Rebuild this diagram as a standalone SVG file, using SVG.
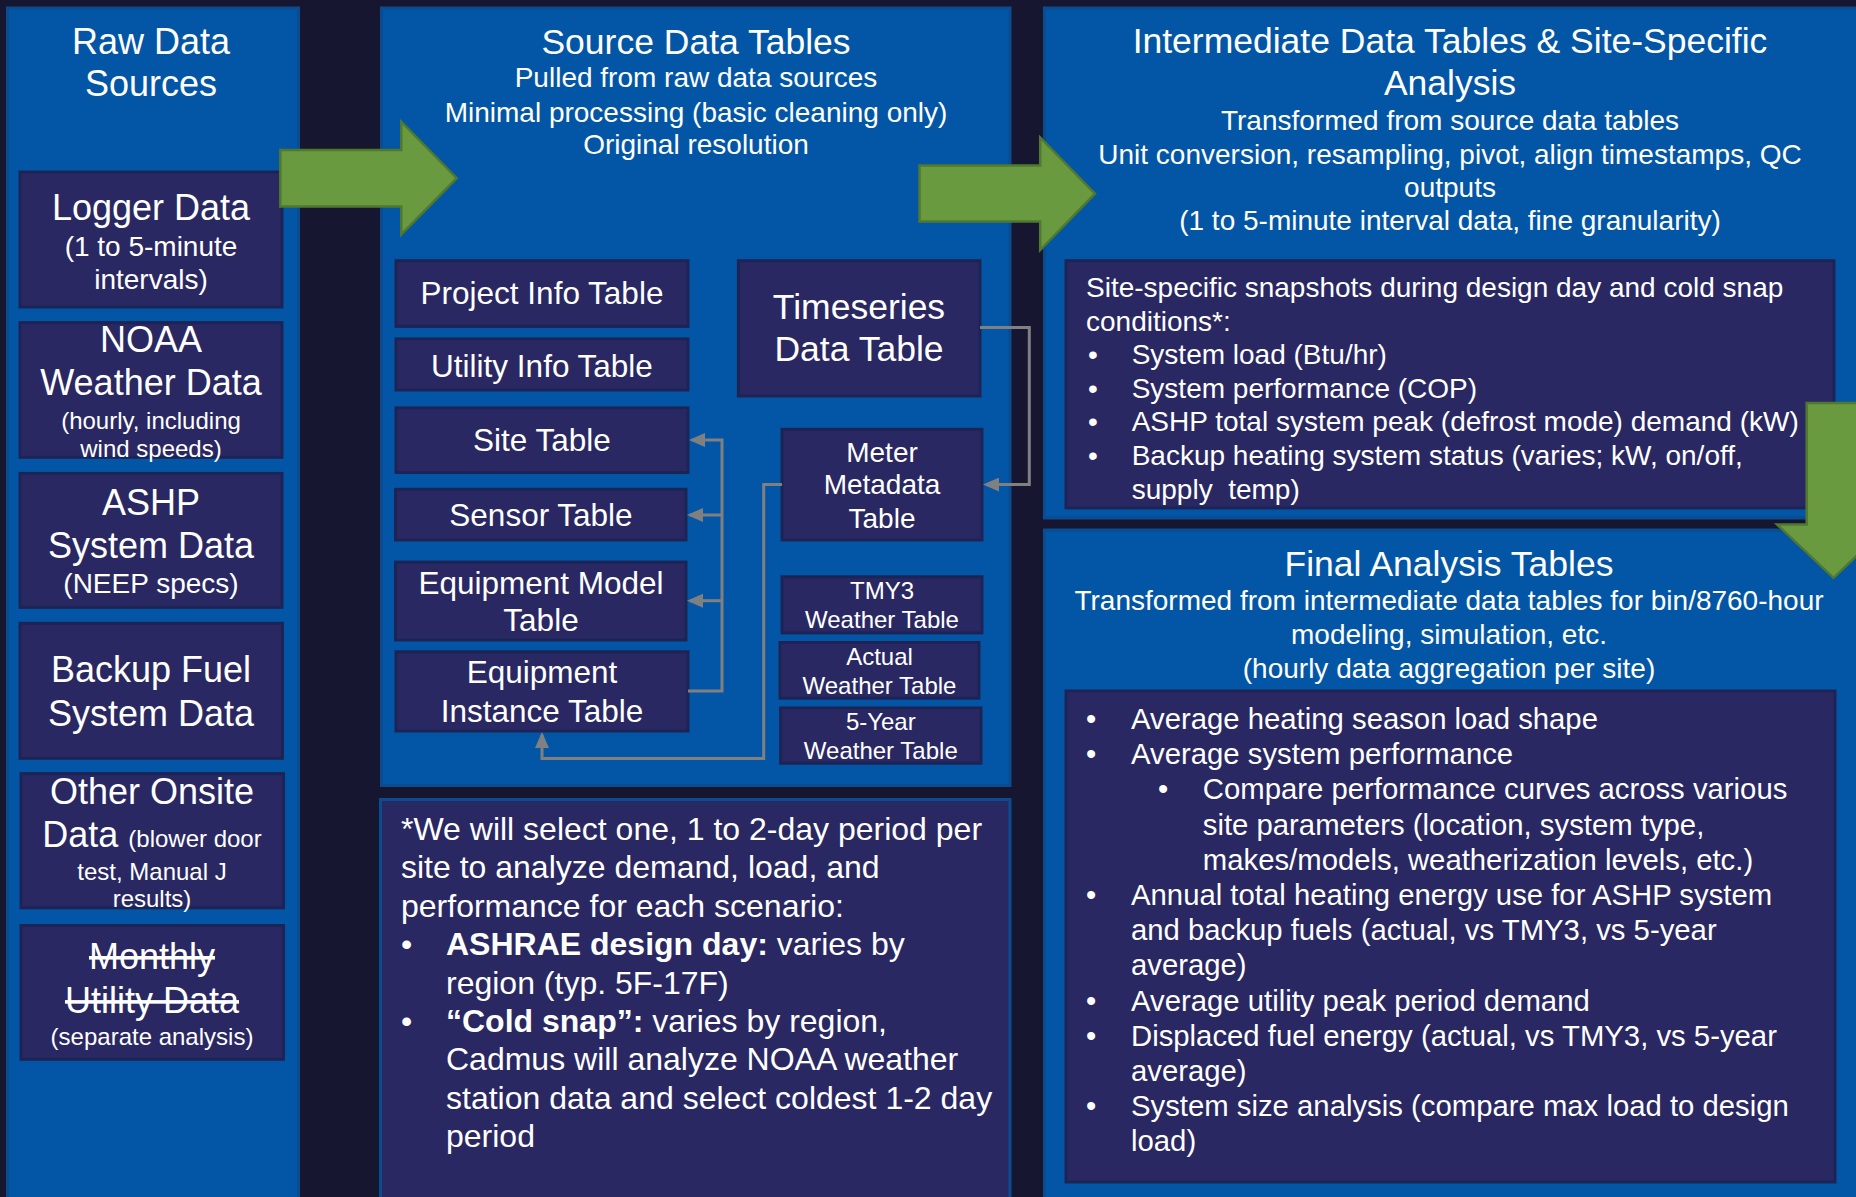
<svg xmlns="http://www.w3.org/2000/svg" width="1856" height="1197" viewBox="0 0 1856 1197">
<style>
.panel{fill:#0356a6;stroke:#0b4b90;stroke-width:3}
.box{fill:#2a2862;stroke:#1c2456;stroke-width:3}
.note{fill:#2a2862;stroke:#0b4b90;stroke-width:3}
text{fill:#ffffff;font-family:"Liberation Sans",Arial,sans-serif}
.c{text-anchor:middle}
.t36{font-size:36px}
.t35{font-size:35.5px}
.t31{font-size:31.5px}
.t28{font-size:28px}
.t24{font-size:24px}
.t29{font-size:29.3px}
.t32{font-size:32px}
.b{font-weight:bold}
.strike{text-decoration:line-through}
.conn{fill:none;stroke:#808080;stroke-width:3}
.garrow{fill:#6a9a3f;stroke:#50782f;stroke-width:2.5}
</style>
<defs>
<marker id="ah" viewBox="0 0 16 14" markerWidth="16" markerHeight="14" refX="13" refY="7" orient="auto" markerUnits="userSpaceOnUse">
<path d="M0,0 L16,7 L0,14 z" fill="#808080"/>
</marker>
</defs>
<rect x="0" y="0" width="1856" height="1197" fill="#161630"/>

<g id="raw-panel">
<rect class="panel" x="7.5" y="8" width="291" height="1195"/>
<text class="c t36" x="151" y="53.6">Raw Data</text>
<text class="c t36" x="151" y="95.7">Sources</text>
</g>
<g id="logger">
<rect class="box" x="20" y="172" width="262" height="135"/>
<text class="c t36" x="151" y="220">Logger Data</text>
<text class="c t28" x="151" y="255.6">(1 to 5-minute</text>
<text class="c t28" x="151" y="289">intervals)</text>
</g>
<g id="noaa">
<rect class="box" x="20" y="322.6" width="262" height="134.7"/>
<text class="c t36" x="151" y="352">NOAA</text>
<text class="c t36" x="151" y="395.3">Weather Data</text>
<text class="c t24" x="151" y="428.6">(hourly, including</text>
<text class="c t24" x="151" y="456.6">wind speeds)</text>
</g>
<g id="ashp">
<rect class="box" x="20" y="473.4" width="262" height="134"/>
<text class="c t36" x="151" y="514.7">ASHP</text>
<text class="c t36" x="151" y="558">System Data</text>
<text class="c t28" x="151" y="593">(NEEP specs)</text>
</g>
<g id="backup">
<rect class="box" x="20" y="623.3" width="262.5" height="135"/>
<text class="c t36" x="151" y="682.3">Backup Fuel</text>
<text class="c t36" x="151" y="726.4">System Data</text>
</g>
<g id="onsite">
<rect class="box" x="21" y="773.6" width="262.5" height="134.2"/>
<text class="c t36" x="152" y="804.3">Other Onsite</text>
<text class="c t36" x="152" y="846.8">Data <tspan class="t24">(blower door</tspan></text>
<text class="c t24" x="152" y="879.9">test, Manual J</text>
<text class="c t24" x="152" y="907.4">results)</text>
</g>
<g id="monthly">
<rect class="box" x="21" y="925.5" width="262.5" height="133.8"/>
<text class="c t36 strike" x="152" y="968.8">Monthly</text>
<text class="c t36 strike" x="152" y="1012.9">Utility Data</text>
<text class="c t24" x="152" y="1045.2">(separate analysis)</text>
</g>

<g id="source-panel">
<rect class="panel" x="381.5" y="8" width="628.5" height="777.5"/>
<text class="c t35" x="696" y="53.6">Source Data Tables</text>
<text class="c t28" x="696" y="87.3">Pulled from raw data sources</text>
<text class="c t28" x="696" y="121.7">Minimal processing (basic cleaning only)</text>
<text class="c t28" x="696" y="154.3">Original resolution</text>
</g>
<g id="project-info">
<rect class="box" x="396" y="260.7" width="292" height="65.7"/>
<text class="c t31" x="542" y="304.4">Project Info Table</text>
</g>
<g id="utility-info">
<rect class="box" x="396" y="338.9" width="292" height="51.1"/>
<text class="c t31" x="542" y="376.8">Utility Info Table</text>
</g>
<g id="site">
<rect class="box" x="396" y="407.9" width="292" height="64.6"/>
<text class="c t31" x="542" y="451.4">Site Table</text>
</g>
<g id="sensor">
<rect class="box" x="395.5" y="489.3" width="290.5" height="50.7"/>
<text class="c t31" x="541" y="525.7">Sensor Table</text>
</g>
<g id="equipment-model">
<rect class="box" x="395.5" y="562.1" width="290.5" height="77.9"/>
<text class="c t31" x="541" y="593.6">Equipment Model</text>
<text class="c t31" x="541" y="631">Table</text>
</g>
<g id="equipment-instance">
<rect class="box" x="396" y="651.8" width="292" height="79.2"/>
<text class="c t31" x="542" y="682.9">Equipment</text>
<text class="c t31" x="542" y="722.1">Instance Table</text>
</g>
<g id="timeseries">
<rect class="box" x="738.4" y="260.7" width="241.6" height="135.3"/>
<text class="c t35" x="859" y="319.3">Timeseries</text>
<text class="c t35" x="859" y="361.4">Data Table</text>
</g>
<g id="meter-metadata">
<rect class="box" x="782" y="429.3" width="200" height="110.7"/>
<text class="c t28" x="882" y="462">Meter</text>
<text class="c t28" x="882" y="494.3">Metadata</text>
<text class="c t28" x="882" y="527.5">Table</text>
</g>
<g id="tmy3">
<rect class="box" x="782" y="576.8" width="200" height="56.1"/>
<text class="c t24" x="882" y="599">TMY3</text>
<text class="c t24" x="882" y="627.5">Weather Table</text>
</g>
<g id="actual-weather">
<rect class="box" x="780" y="642.5" width="199" height="55.7"/>
<text class="c t24" x="879.5" y="665">Actual</text>
<text class="c t24" x="879.5" y="693.6">Weather Table</text>
</g>
<g id="five-year-weather">
<rect class="box" x="780.6" y="707.9" width="200.4" height="55.3"/>
<text class="c t24" x="880.8" y="730">5-Year</text>
<text class="c t24" x="880.8" y="758.6">Weather Table</text>
</g>

<g id="footnote">
<rect class="note" x="380.5" y="799.5" width="629.5" height="405"/>
<text class="t32" x="401" y="840">*We will select one, 1 to 2-day period per</text>
<text class="t32" x="401" y="878.4">site to analyze demand, load, and</text>
<text class="t32" x="401" y="916.8">performance for each scenario:</text>
<text class="t32" x="401" y="955.2">•</text>
<text class="t32" x="446" y="955.2"><tspan class="b">ASHRAE design day:</tspan> varies by</text>
<text class="t32" x="446" y="993.6">region (typ. 5F-17F)</text>
<text class="t32" x="401" y="1032">•</text>
<text class="t32" x="446" y="1032"><tspan class="b">“Cold snap”:</tspan> varies by region,</text>
<text class="t32" x="446" y="1070.4">Cadmus will analyze NOAA weather</text>
<text class="t32" x="446" y="1108.8">station data and select coldest 1-2 day</text>
<text class="t32" x="446" y="1147.2">period</text>
</g>

<g id="intermediate-panel">
<rect class="panel" x="1044.5" y="8" width="815" height="510"/>
<text class="c t35" x="1450" y="52.9">Intermediate Data Tables &amp; Site-Specific</text>
<text class="c t35" x="1450" y="94.6">Analysis</text>
<text class="c t28" x="1450" y="130.4">Transformed from source data tables</text>
<text class="c t28" x="1450" y="164.3">Unit conversion, resampling, pivot, align timestamps, QC</text>
<text class="c t28" x="1450" y="197">outputs</text>
<text class="c t28" x="1450" y="230.4">(1 to 5-minute interval data, fine granularity)</text>
</g>
<g id="site-specific">
<rect class="box" x="1066" y="260.7" width="768" height="247.2"/>
<text class="t28" x="1086" y="297">Site-specific snapshots during design day and cold snap</text>
<text class="t28" x="1086" y="330.6">conditions*:</text>
<text class="t28" x="1088" y="364.2">•</text>
<text class="t28" x="1131.7" y="364.2">System load (Btu/hr)</text>
<text class="t28" x="1088" y="397.8">•</text>
<text class="t28" x="1131.7" y="397.8">System performance (COP)</text>
<text class="t28" x="1088" y="431.4">•</text>
<text class="t28" x="1131.7" y="431.4">ASHP total system peak (defrost mode) demand (kW)</text>
<text class="t28" x="1088" y="465">•</text>
<text class="t28" x="1131.7" y="465">Backup heating system status (varies; kW, on/off,</text>
<text class="t28" x="1131.7" y="498.6" xml:space="preserve">supply  temp)</text>
</g>

<g id="final-panel">
<rect class="panel" x="1044.5" y="530" width="815" height="675"/>
<text class="c t35" x="1449" y="575.6">Final Analysis Tables</text>
<text class="c t28" x="1449" y="610.2">Transformed from intermediate data tables for bin/8760-hour</text>
<text class="c t28" x="1449" y="644.4">modeling, simulation, etc.</text>
<text class="c t28" x="1449" y="677.8">(hourly data aggregation per site)</text>
</g>
<g id="final-list">
<rect class="box" x="1066" y="691" width="769" height="491"/>
<text class="t29" x="1086" y="729">•</text>
<text class="t29" x="1131" y="729">Average heating season load shape</text>
<text class="t29" x="1086" y="764.2">•</text>
<text class="t29" x="1131" y="764.2">Average system performance</text>
<text class="t29" x="1158" y="799.4">•</text>
<text class="t29" x="1202.8" y="799.4">Compare performance curves across various</text>
<text class="t29" x="1202.8" y="834.6">site parameters (location, system type,</text>
<text class="t29" x="1202.8" y="869.8">makes/models, weatherization levels, etc.)</text>
<text class="t29" x="1086" y="905">•</text>
<text class="t29" x="1131" y="905">Annual total heating energy use for ASHP system</text>
<text class="t29" x="1131" y="940.2">and backup fuels (actual, vs TMY3, vs 5-year</text>
<text class="t29" x="1131" y="975.4">average)</text>
<text class="t29" x="1086" y="1010.6">•</text>
<text class="t29" x="1131" y="1010.6">Average utility peak period demand</text>
<text class="t29" x="1086" y="1045.8">•</text>
<text class="t29" x="1131" y="1045.8">Displaced fuel energy (actual, vs TMY3, vs 5-year</text>
<text class="t29" x="1131" y="1081">average)</text>
<text class="t29" x="1086" y="1116.2">•</text>
<text class="t29" x="1131" y="1116.2">System size analysis (compare max load to design</text>
<text class="t29" x="1131" y="1151.4">load)</text>
</g>

<g id="connectors">
<path class="conn" d="M688,691 H722 V440 H692" marker-end="url(#ah)"/>
<path class="conn" d="M722,515 H690" marker-end="url(#ah)"/>
<path class="conn" d="M722,600.7 H690" marker-end="url(#ah)"/>
<path class="conn" d="M782,484.6 H763.7 V758.6 H542 V735" marker-end="url(#ah)"/>
<path class="conn" d="M980,327.5 H1029.3 V484.6 H986" marker-end="url(#ah)"/>
<polygon class="garrow" points="280.3,150 401.3,150 401.3,121.7 456.7,178.2 401.3,234.5 401.3,206.5 280.3,206.5"/>
<polygon class="garrow" points="919.5,165.4 1040.2,165.4 1040.2,137.5 1095,193.7 1040.2,250 1040.2,221.4 919.5,221.4"/>
<polygon class="garrow" points="1806.7,402.9 1860.3,402.9 1860.3,524.4 1890,524.4 1833.5,577.8 1777,524.4 1806.7,524.4"/>
</g>
</svg>
